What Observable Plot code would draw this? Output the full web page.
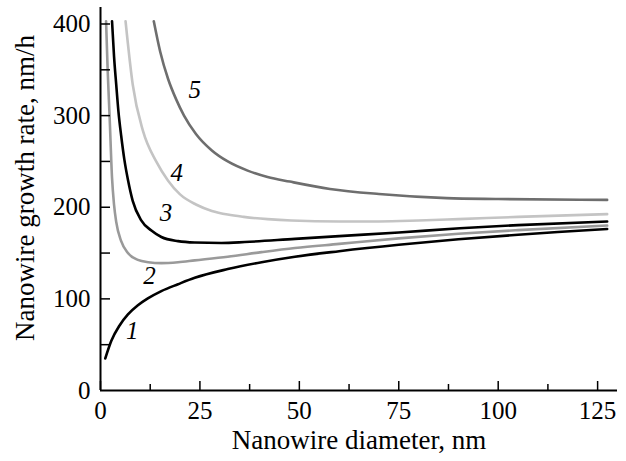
<!DOCTYPE html>
<html>
<head>
<meta charset="utf-8">
<script src="https://cdn.jsdelivr.net/npm/d3@7"></script>
<script src="https://cdn.jsdelivr.net/npm/@observablehq/plot@0.6"></script>
<style>
  html, body { margin: 0; padding: 0; background: #fff; }
  svg, svg text { font-family: "Liberation Serif", "DejaVu Serif", serif !important; font-variant: normal !important; }
</style>
</head>
<body>
<div id="chart"></div>
<script>
// Curve 1 (black, lower)
const d1 = [1.2, 2.7, 4.8, 6.9, 9.4, 11.9, 15.3, 19.5, 23.7, 32, 40.5, 48.9, 60, 75, 90, 105, 115, 127.4];
const v1 = [35, 54, 71, 83, 93, 100.5, 108.5, 116, 123, 132.5, 140, 146, 152, 159, 165, 170, 173, 176.3];
// Curve 2 (mid gray)
const d2 = [1.4, 1.8, 2.3, 2.9, 3.4, 3.95, 5.2, 6.9, 9.4, 12, 15.3, 19.5, 23.7, 32, 40.5, 48.9, 60, 75, 90, 105, 127.4];
const v2 = [403, 350, 298, 232, 203, 184, 163, 150, 142.5, 140, 139, 140, 142, 146, 151, 155.5, 160, 166, 171, 175, 180];
// Curve 3 (black, upper)
const d3 = [2.9, 3.4, 3.95, 4.5, 5.2, 6.0, 6.9, 8.1, 10.2, 12.8, 15.3, 19.5, 23.7, 30.4, 36.3, 48.9, 60, 75, 90.4, 105, 127.4];
const v3 = [403, 365, 334, 305, 278, 252, 230, 207, 186, 174.5, 167.5, 163, 161.5, 161, 162, 165.5, 168.5, 172.5, 177, 180.5, 184.5];
// Curve 4 (light gray)
const d4 = [6.3, 8.1, 10.7, 14, 17, 20, 24, 28, 32, 36, 42, 48, 60, 70, 80, 90, 105, 127.4];
const v4 = [403, 334, 283, 250, 229, 214, 203, 196, 192, 189.5, 187, 185.5, 184.5, 184.5, 185.5, 187, 189.5, 192.5];
// Curve 5 (dark gray)
const d5 = [13.4, 15, 17, 19, 21, 24, 28, 32, 37, 42, 47.6, 57.7, 70, 87, 100, 127.4];
const v5 = [403, 370, 340, 318, 300, 280, 262, 250, 240, 233, 228, 220, 214.5, 210, 209, 208];

const curveNames = ["1", "2", "3", "4", "5"];
const curveColors = ["#000000", "#9a9a9a", "#000000", "#c4c4c4", "#6e6e6e"];

// Curve number labels (italic)
const labelText = ["1", "2", "3", "4", "5"];
const labelX = [8, 12.3, 16.5, 19.2, 23.7];
const labelY = [65, 125, 194, 237, 328];

// Ticks
const xMajor = [0, 25, 50, 75, 100, 125];
const xMinor = [12.5, 37.5, 62.5, 87.5, 112.5];
const yLabeled = [0, 100, 200, 300, 400];
const yAll = [50, 100, 150, 200, 250, 300, 350, 400];

const xs = [d1, d2, d3, d4, d5];
const vs = [v1, v2, v3, v4, v5];
const rows = [];
xs.forEach((dd, i) => dd.forEach((d, j) => rows.push({curve: curveNames[i], d, v: vs[i][j]})));
const labels = labelText.map((t, i) => ({t, x: labelX[i], y: labelY[i]}));

const font = "Liberation Serif";

const chart = Plot.plot({
  width: 626,
  height: 461,
  marginLeft: 100,
  marginRight: 9,
  marginTop: 7,
  marginBottom: 71,
  x: {domain: [0, 130]},
  y: {domain: [0, 418]},
  color: {domain: curveNames, range: curveColors},
  style: {fontFamily: font, fontSize: "24px", color: "black", background: "white"},
  marks: [
    Plot.line(rows, {x: "d", y: "v", z: "curve", stroke: "curve", strokeWidth: 2.6, curve: "monotone-x"}),
    Plot.axisX({ticks: xMinor, tickSize: -6, tickFormat: () => "", label: null, strokeWidth: 1.5}),
    Plot.axisX({ticks: xMajor, tickSize: -9, tickPadding: 20, label: null, strokeWidth: 1.5, fontSize: 25, fontFamily: font}),
    Plot.axisY({ticks: yAll, tickSize: -10, tickFormat: () => "", label: null, strokeWidth: 1.5}),
    Plot.axisY({ticks: yLabeled, tickSize: 0, tickPadding: 10, label: null, fontSize: 25, fontFamily: font}),
    Plot.ruleX([0], {strokeWidth: 2}),
    Plot.ruleY([0], {strokeWidth: 2}),
    Plot.text(labels, {x: "x", y: "y", text: "t", fontStyle: "italic", fontSize: 25, fontFamily: font}),
    Plot.text(["Nanowire diameter, nm"], {frameAnchor: "bottom", dy: 58, fontSize: 27, fontFamily: font}),
    Plot.text(["Nanowire growth rate, nm/h"], {frameAnchor: "left", textAnchor: "middle", dx: -75, dy: -11, rotate: -90, fontSize: 27, fontFamily: font})
  ]
});
document.getElementById("chart").appendChild(chart);
</script>
</body>
</html>
